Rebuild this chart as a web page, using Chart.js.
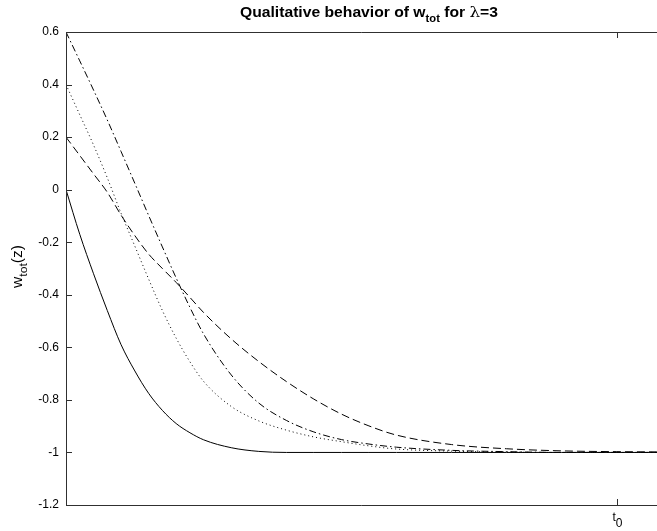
<!DOCTYPE html>
<html>
<head>
<meta charset="utf-8">
<script src="https://cdn.jsdelivr.net/npm/chart.js@4/dist/chart.umd.min.js"></script>
<style>
  html, body { margin: 0; padding: 0; background: #fff; overflow: hidden; }
  canvas { display: block; }
</style>
</head>
<body>
<canvas id="wtotChart" width="657" height="531"></canvas>
<script>
// values, x in arbitrary units (t0 = 10)
const xGrid = [0, 0.25, 0.5, 0.75, 1, 1.25, 1.5, 1.75, 2, 2.25, 2.5, 3, 3.5, 4, 4.5, 5, 5.5, 6, 7, 8, 9, 10, 10.8];
const solidVals = [0, -0.17, -0.32, -0.46, -0.59, -0.69, -0.775, -0.84, -0.89, -0.925, -0.952, -0.982, -0.996, -1, -1, -1, -1, -1, -1, -1, -1, -1, -1];
const dottedVals = [0.4, 0.285, 0.17, 0.045, -0.09, -0.215, -0.34, -0.46, -0.565, -0.655, -0.73, -0.825, -0.88, -0.915, -0.941, -0.959, -0.975, -0.987, -0.995, -0.999, -1, -1, -1];
const dashDotVals = [0.6, 0.49, 0.379, 0.265, 0.145, 0.024, -0.098, -0.218, -0.336, -0.448, -0.55, -0.705, -0.812, -0.878, -0.922, -0.951, -0.968, -0.98, -0.992, -0.997, -1, -1, -1];
const dashedVals = [0.2, 0.13, 0.06, -0.01, -0.097, -0.175, -0.245, -0.30, -0.353, -0.41, -0.468, -0.568, -0.654, -0.73, -0.797, -0.854, -0.899, -0.934, -0.97, -0.986, -0.994, -0.997, -0.998];

const yTickValues = [0.6, 0.4, 0.2, 0, -0.2, -0.4, -0.6, -0.8, -1, -1.2];
const yTickLabels = ['0.6', '0.4', '0.2', '0', '-0.2', '-0.4', '-0.6', '-0.8', '-1', '-1.2'];
const T0 = 10;

const SANS = '"Liberation Sans", Arial, sans-serif';

function pts(vals) {
  return xGrid.map((x, i) => ({ x: x, y: vals[i] }));
}

function line(vals, dash) {
  return {
    data: pts(vals),
    borderColor: '#000',
    borderWidth: 1,
    borderDash: dash,
    pointRadius: 0,
    fill: false,
    cubicInterpolationMode: 'monotone'
  };
}

// draws pieces of text (with sub drops) from the current origin, squeezed/stretched to a width
function richText(ctx, parts, width) {
  let total = 0;
  parts.forEach(p => { ctx.font = p.font; total += ctx.measureText(p.t).width; });
  const s = width ? width / total : 1;
  ctx.save();
  ctx.scale(s, 1);
  let x = 0;
  parts.forEach(p => {
    ctx.font = p.font;
    ctx.fillText(p.t, x, p.dy || 0);
    x += ctx.measureText(p.t).width;
  });
  ctx.restore();
}

// axes frame, inward ticks and all the texts
const frame = {
  id: 'frame',
  afterDraw(chart) {
    const { ctx, chartArea: a, scales: { x, y } } = chart;
    ctx.save();
    ctx.strokeStyle = '#303030';
    ctx.lineWidth = 1;
    ctx.beginPath();
    ctx.moveTo(chart.width, a.top + 0.5);
    ctx.lineTo(a.left + 0.5, a.top + 0.5);
    ctx.lineTo(a.left + 0.5, a.bottom + 0.5);
    ctx.lineTo(chart.width, a.bottom + 0.5);
    yTickValues.forEach(v => {
      const py = Math.round(y.getPixelForValue(v)) + 0.5;
      ctx.moveTo(a.left, py);
      ctx.lineTo(a.left + 6, py);
    });
    const tx = Math.round(x.getPixelForValue(T0)) + 0.5;
    ctx.moveTo(tx, a.bottom);
    ctx.lineTo(tx, a.bottom - 6);
    ctx.moveTo(tx, a.top);
    ctx.lineTo(tx, a.top + 6);
    ctx.stroke();

    ctx.fillStyle = '#000';
    ctx.font = '12px ' + SANS;
    ctx.textAlign = 'right';
    ctx.textBaseline = 'middle';
    yTickValues.forEach((v, i) => {
      ctx.fillText(yTickLabels[i], a.left - 7, y.getPixelForValue(v));
    });

    ctx.textAlign = 'left';
    ctx.textBaseline = 'alphabetic';

    // t0 label
    ctx.save();
    ctx.translate(tx - 5, a.bottom + 16);
    richText(ctx, [
      { t: 't', font: '12px ' + SANS },
      { t: '0', font: '12px ' + SANS, dy: 6 }
    ]);
    ctx.restore();

    // title
    ctx.save();
    ctx.translate(240, 17);
    richText(ctx, [
      { t: 'Qualitative behavior of w', font: 'bold 14px ' + SANS },
      { t: 'tot', font: 'bold 10px ' + SANS, dy: 5 },
      { t: ' for ', font: 'bold 14px ' + SANS },
      { t: '\u03bb', font: '15px "DejaVu Serif", "Liberation Serif", serif' },
      { t: '=3', font: 'bold 14px ' + SANS }
    ], 258);
    ctx.restore();

    // y axis title
    ctx.save();
    ctx.translate(22, 288);
    ctx.rotate(-Math.PI / 2);
    richText(ctx, [
      { t: 'w', font: '14px ' + SANS },
      { t: 'tot', font: '11px ' + SANS, dy: 5 },
      { t: '(z)', font: '14px ' + SANS }
    ], 43);
    ctx.restore();

    ctx.restore();
  }
};

const ctx = document.getElementById('wtotChart').getContext('2d');
const wtotChart = new Chart(ctx, {
  type: 'line',
  data: {
    datasets: [
      line(solidVals, []),
      line(dottedVals, [1, 3]),
      line(dashDotVals, [7, 3, 1.5, 3]),
      line(dashedVals, [8, 4])
    ]
  },
  options: {
    responsive: false,
    animation: false,
    devicePixelRatio: 1,
    layout: { padding: { left: 66, top: 32, right: 0, bottom: 26 } },
    plugins: { legend: { display: false }, tooltip: { enabled: false }, title: { display: false } },
    scales: {
      x: { type: 'linear', min: 0, max: 10.73, display: false },
      y: { type: 'linear', min: -1.2, max: 0.6, display: false }
    }
  },
  plugins: [frame]
});
</script>
</body>
</html>
